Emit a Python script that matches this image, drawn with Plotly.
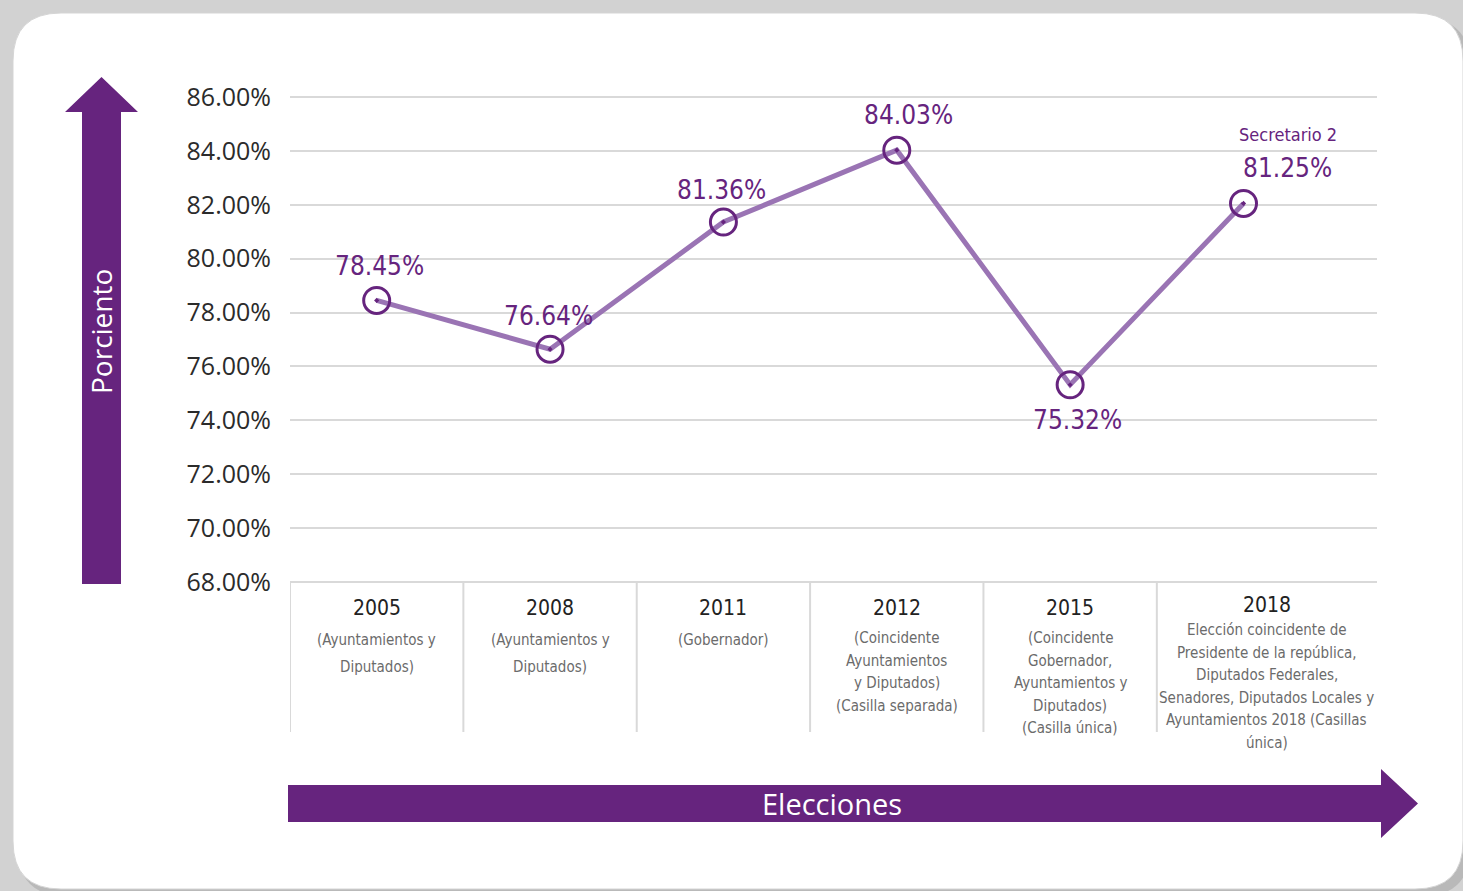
import plotly.graph_objects as go

# ---- data ----
years = ["2005", "2008", "2011", "2012", "2015", "2018"]
descriptions = [
    ["(Ayuntamientos y", "Diputados)"],
    ["(Ayuntamientos y", "Diputados)"],
    ["(Gobernador)"],
    ["(Coincidente", "Ayuntamientos", "y Diputados)", "(Casilla separada)"],
    ["(Coincidente", "Gobernador,", "Ayuntamientos y", "Diputados)", "(Casilla única)"],
    ["Elección coincidente de", "Presidente de la república,", "Diputados Federales,",
     "Senadores, Diputados Locales y", "Ayuntamientos 2018 (Casillas", "única)"],
]
values = [78.45, 76.64, 81.36, 84.03, 75.32, 82.05]   # plotted positions
value_labels = ["78.45%", "76.64%", "81.36%", "84.03%", "75.32%", "81.25%"]
y_ticks = [68, 70, 72, 74, 76, 78, 80, 82, 84, 86]

W, H = 1463, 891
L, R, T, B = 290, 1377, 96, 583
PW, PH = R - L, B - T

def px(x):
    return (x - L) / PW

def py(y):
    return (B - y) / PH

DARK = "#66247e"
MID = "#9a74b4"
FONT_NARROW = "DejaVu Sans Condensed, Liberation Sans Narrow, Arial Narrow, sans-serif"

xs = list(range(len(years)))

fig = go.Figure()

fig.add_trace(go.Scatter(
    x=xs, y=values, mode="lines",
    line=dict(color=MID, width=5),
    hoverinfo="skip", showlegend=False,
))
fig.add_trace(go.Scatter(
    x=xs, y=values, mode="markers",
    marker=dict(symbol="circle-open-dot", size=26, color=DARK, line=dict(width=3, color=DARK)),
    hoverinfo="skip", showlegend=False,
))

shapes = []
annotations = []

def rrect(x0, y0, x1, y1, r):
    X0, X1 = px(x0), px(x1)
    Y0, Y1 = py(y0), py(y1)
    rx, ry = r / PW, r / PH
    return (f"M {X0+rx},{Y0} L {X1-rx},{Y0} Q {X1},{Y0} {X1},{Y0-ry} "
            f"L {X1},{Y1+ry} Q {X1},{Y1} {X1-rx},{Y1} "
            f"L {X0+rx},{Y1} Q {X0},{Y1} {X0},{Y1+ry} "
            f"L {X0},{Y0-ry} Q {X0},{Y0} {X0+rx},{Y0} Z")

shapes.append(dict(type="path", xref="paper", yref="paper", layer="below",
                   path=rrect(18, 18, 1470, 896, 48), fillcolor="#b9b9b9", line=dict(width=0)))
shapes.append(dict(type="path", xref="paper", yref="paper", layer="below",
                   path=rrect(13, 13, 1463, 889, 48), fillcolor="#ffffff",
                   line=dict(width=1, color="#d5d5d5")))

for k in range(len(years)):
    shapes.append(dict(type="line", xref="x", yref="paper",
                       x0=k - 0.5, x1=k - 0.5, y0=py(583), y1=py(732),
                       line=dict(color="#d9d9d9", width=2), layer="below"))

# y-axis arrow
ax_l, ax_r, head_l, head_r = 82, 121, 65, 138
tip_y, base_y, bot_y = 77, 112, 584
arrow_up = (f"M {px(ax_l)},{py(bot_y)} L {px(ax_l)},{py(base_y)} L {px(head_l)},{py(base_y)} "
            f"L {px((ax_l+ax_r)/2)},{py(tip_y)} L {px(head_r)},{py(base_y)} "
            f"L {px(ax_r)},{py(base_y)} L {px(ax_r)},{py(bot_y)} Z")
shapes.append(dict(type="path", xref="paper", yref="paper", path=arrow_up,
                   fillcolor=DARK, line=dict(width=0)))

# x-axis arrow
sh_t, sh_b, hd_t, hd_b = 785, 822, 769, 838
x_start, x_base, x_tip = 288, 1381, 1418
arrow_right = (f"M {px(x_start)},{py(sh_t)} L {px(x_base)},{py(sh_t)} L {px(x_base)},{py(hd_t)} "
               f"L {px(x_tip)},{py((sh_t+sh_b)/2)} L {px(x_base)},{py(hd_b)} "
               f"L {px(x_base)},{py(sh_b)} L {px(x_start)},{py(sh_b)} Z")
shapes.append(dict(type="path", xref="paper", yref="paper", path=arrow_right,
                   fillcolor=DARK, line=dict(width=0)))

annotations.append(dict(text="Porciento", xref="paper", yref="paper",
                        x=px(101), y=py(332), textangle=-90, showarrow=False,
                        font=dict(family="Open Sans, sans-serif", size=28, color="white"),
                        xanchor="center", yanchor="middle"))
annotations.append(dict(text="Elecciones", xref="paper", yref="paper",
                        x=px(832), y=py(803), showarrow=False,
                        font=dict(family="Open Sans, sans-serif", size=29, color="white"),
                        xanchor="center", yanchor="middle"))

# category labels: (year centre y, first description line centre y, line spacing)
label_layout = [(608, 640, 27), (608, 640, 27), (608, 640, 23),
                (608, 638, 22.7), (608, 638, 22.5), (605, 630, 22.6)]
for k, (yr, desc) in enumerate(zip(years, descriptions)):
    xsh = 23 if k == len(years) - 1 else 0
    yc, d0, dsp = label_layout[k]
    annotations.append(dict(text=yr, xref="x", yref="paper", x=k, y=py(yc),
                            xshift=xsh, showarrow=False, yanchor="middle", xanchor="center",
                            font=dict(family=FONT_NARROW, size=21, color="#222222")))
    for j, line in enumerate(desc):
        annotations.append(dict(text=line, xref="x", yref="paper", x=k, y=py(d0 + j * dsp),
                                xshift=xsh, showarrow=False, yanchor="middle", xanchor="center",
                                font=dict(family=FONT_NARROW, size=15, color="#6b6b6b")))

offsets = [(3, 34), (-2, 33), (-2, 32), (12, 35), (7, -35), (44, 35)]
for k, (v, lab) in enumerate(zip(values, value_labels)):
    dx, dy = offsets[k]
    annotations.append(dict(text=lab, xref="x", yref="y", x=k, y=v,
                            xshift=dx, yshift=dy, showarrow=False,
                            xanchor="center", yanchor="middle",
                            font=dict(family=FONT_NARROW, size=26, color=DARK)))
annotations.append(dict(text="Secretario 2", xref="x", yref="y", x=5, y=values[5],
                        xshift=44, yshift=69, showarrow=False,
                        xanchor="center", yanchor="middle",
                        font=dict(family=FONT_NARROW, size=18, color=DARK)))

fig.update_layout(
    width=W, height=H,
    margin=dict(l=L, r=W - R, t=T, b=H - B),
    paper_bgcolor="#d2d2d2",
    plot_bgcolor="rgba(0,0,0,0)",
    shapes=shapes,
    annotations=annotations,
    showlegend=False,
    xaxis=dict(range=[-0.5, 5.77], showgrid=False, zeroline=False,
               showticklabels=False, ticks="", fixedrange=True),
    yaxis=dict(range=[67.96, 86.04], tickvals=y_ticks,
               ticktext=[f"{t:.2f}%" for t in y_ticks],
               showgrid=True, gridcolor="#d9d9d9", gridwidth=2,
               zeroline=False, ticks="", ticklabelstandoff=18,
               tickfont=dict(family="Open Sans, sans-serif", size=25, color="#2b2b2b"),
               fixedrange=True),
)

fig.write_html("out.html", config={"displayModeBar": False},
               post_script="document.body.style.margin='0';document.body.style.overflow='hidden';")
